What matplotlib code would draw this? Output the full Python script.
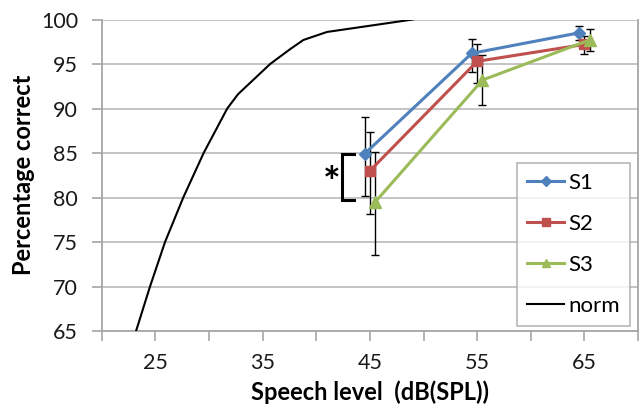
import numpy as np
import matplotlib
matplotlib.use("Agg")
import matplotlib.pyplot as plt

plt.rcParams['font.family'] = ['Lato', 'DejaVu Sans']

# speech levels (dB SPL) and mean percentage correct per subject
levels = [45, 55, 65]
s1 = [84.9, 96.2, 98.5]
s2 = [83.0, 95.3, 97.2]
s3 = [79.5, 93.2, 97.7]
# error bars: (lower, upper) extents
s1_err = [[4.7, 2.1, 0.8], [4.1, 1.6, 0.8]]
s2_err = [[4.9, 2.4, 1.1], [4.4, 1.9, 0.9]]
s3_err = [[6.0, 2.8, 1.2], [5.6, 2.8, 1.2]]

# normative curve
norm_x = [23.2, 24.5, 25.9, 27.6, 29.5, 31.7, 32.7, 35.7, 37.6, 38.8, 41.0, 49.0]
norm_y = [65.0, 70.0, 75.0, 80.0, 85.0, 90.0, 91.6, 95.0, 96.7, 97.7, 98.6, 100.0]

xticks = [20, 25, 30, 35, 40, 45, 50, 55, 60, 65, 70]
xticklabels = ["", "25", "", "35", "", "45", "", "55", "", "65", ""]
yticks = [65, 70, 75, 80, 85, 90, 95, 100]

fig = plt.figure(figsize=(6.44, 4.15), dpi=100)
ax = fig.add_axes([0.158, 0.2024, 0.8327, 0.7506])

lv = np.array(levels, dtype=float)
series = [
    ("S1", s1, s1_err, "#4F81BD", "D", 6, -0.5),
    ("S2", s2, s2_err, "#C0504D", "s", 7, 0.0),
    ("S3", s3, s3_err, "#9BBB59", "^", 8, 0.5),
]
for name, vals, err, col, mk, ms, dx in series:
    ax.errorbar(lv + dx, vals, yerr=err, fmt="none", ecolor="black",
                elinewidth=1, capsize=3, capthick=1, zorder=3)
    ax.plot(lv + dx, vals, color=col, lw=2.2, marker=mk, ms=ms,
            label=name, zorder=4)

ax.plot(norm_x, norm_y, color="black", lw=1.5, label="norm", zorder=4)

# significance bracket
ax.plot([43.5, 42.4, 42.4, 43.5], [84.9, 84.9, 79.7, 79.7], color="black", lw=2.2,
        solid_joinstyle="miter", zorder=4)
ax.text(41.4, 81.4, "*", fontsize=30, fontweight="bold", ha="center", va="center")

ax.set_xlim(20, 70)
ax.set_ylim(65, 100)
ax.set_xticks(xticks)
ax.set_xticklabels(xticklabels)
ax.set_yticks(yticks)
ax.tick_params(axis="both", labelsize=15.5, color="#A6A6A6", direction="out",
               length=7, width=1.2, labelcolor="#1a1a1a")
ax.tick_params(axis="y", pad=10)
ax.tick_params(axis="x", pad=9)
ax.grid(axis="y", color="#BFBFBF", lw=1.3)
ax.set_axisbelow(True)
for side in ["left", "bottom", "right"]:
    ax.spines[side].set_color("#A6A6A6")
    ax.spines[side].set_linewidth(1.3)
ax.spines["top"].set_visible(False)

ax.set_xlabel("Speech level  (dB(SPL))", fontsize=17, fontweight="bold", labelpad=5)
ax.set_ylabel("Percentage correct", fontsize=17, fontweight="bold", labelpad=4)

leg = ax.legend(loc="lower right", bbox_to_anchor=(0.985, 0.016), fontsize=16,
                frameon=True, fancybox=False, edgecolor="#A6A6A6",
                handlelength=1.65, labelspacing=0.95, borderpad=0.45,
                borderaxespad=0, handletextpad=0.2, markerscale=0.8)
leg.get_frame().set_linewidth(1.2)

fig.savefig("out.png", dpi=100)
